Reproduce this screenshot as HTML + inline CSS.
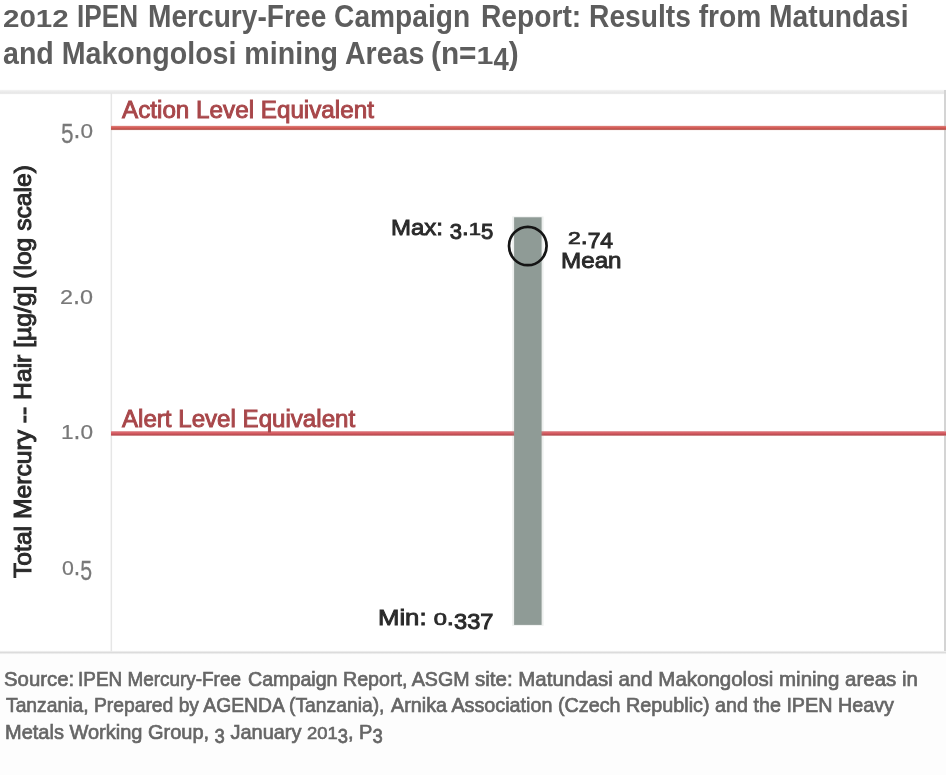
<!DOCTYPE html>
<html lang="en">
<head>
<meta charset="utf-8">
<title>2012 IPEN Mercury-Free Campaign Report</title>
<style>
html,body{margin:0;padding:0;background:#ffffff}
body{width:946px;height:775px;position:relative;overflow:hidden;font-family:"Liberation Sans",sans-serif}
h1,p{margin:0;padding:0;font-size:0;line-height:0;font-weight:400}
#g{position:absolute;left:0;top:0;width:946px;height:775px}
.t{position:absolute;white-space:pre;line-height:1;transform-origin:0 0;letter-spacing:0;filter:blur(0.55px)}
.h{font-size:32px;font-weight:700;color:#5d5d5d}
.rl{font-size:23px;font-weight:400;color:#a8474a;-webkit-text-stroke:0.9px currentColor}
.tk{font-size:27px;font-weight:400;color:#787878;-webkit-text-stroke:0.25px currentColor}
.lb{font-size:22.5px;font-weight:400;color:#2a2a2a;-webkit-text-stroke:0.9px currentColor}
.src{font-size:21px;font-weight:400;color:#666666;-webkit-text-stroke:0.7px currentColor}
.yl{font-size:24px;font-weight:400;color:#2a2a2a;-webkit-text-stroke:1px currentColor}
.d,.q{display:inline-block;line-height:1;font-size:.92em;transform-origin:0 84.65%}
.d{transform:scaleY(0.82)}
.q{transform:translateY(0.2em) scaleY(1.08)}
.h .d{font-size:1.02em;transform:scaleY(.76)}
#h1a{left:2.89px;top:-0.09px;transform:scaleX(0.9057)}
#h1b{left:77.27px;top:-0.09px;transform:scaleX(0.8169)}
#h1c{left:148.24px;top:-0.09px;transform:scaleX(0.8793)}
#h1d{left:481.24px;top:-0.09px;transform:scaleX(0.8807)}
#h2a{left:2.91px;top:36.61px;transform:scaleX(0.8932)}
#h2b{left:430.94px;top:36.61px;transform:scaleX(0.9308)}
#act{left:121.60px;top:99.33px;transform:scaleX(1.0536)}
#alr{left:121.60px;top:408.23px;transform:scaleX(1.0480)}
#y50{left:60.69px;top:116.04px;transform:scaleX(0.9091)}
#y20{left:59.56px;top:281.94px;transform:scaleX(0.9424)}
#y10{left:60.57px;top:416.74px;transform:scaleX(0.9125)}
#y05{left:61.54px;top:553.44px;transform:scaleX(0.8576)}
#max{left:390.93px;top:216.55px;transform:scaleX(1.0670)}
#mv{left:568.19px;top:225.95px;transform:scaleX(1.1050)}
#mean{left:561.02px;top:250.15px;transform:scaleX(1.0759)}
#min{left:378.36px;top:607.45px;transform:scaleX(1.1424)}
#s1a{left:4.03px;top:667.72px;transform:scaleX(0.9686)}
#s1b{left:77.60px;top:667.72px;transform:scaleX(0.9011)}
#s1c{left:247.96px;top:667.72px;transform:scaleX(0.9353)}
#s1d{left:475.40px;top:667.72px;transform:scaleX(0.9755)}
#s2a{left:6.00px;top:694.32px;transform:scaleX(0.9185)}
#s2b{left:390.90px;top:694.32px;transform:scaleX(0.9409)}
#s3{left:4.55px;top:721.12px;transform:scaleX(0.9519)}
#yl{left:10.88px;top:578.30px;transform:rotate(-90deg) scaleX(1.0274)}
</style>
</head>
<body>
<h1><span class="t h" id="h1a"><span class="d">2012</span></span> <span class="t h" id="h1b">IPEN</span> <span class="t h" id="h1c">Mercury-Free Campaign</span> <span class="t h" id="h1d">Report: Results from Matundasi</span>
<span class="t h" id="h2a">and Makongolosi mining Areas</span> <span class="t h" id="h2b">(n=<span class="d">1</span><span class="q">4</span>)</span></h1>
<svg id="g" width="946" height="775" viewBox="0 0 946 775">
<defs>
<linearGradient id="gt" x1="0" y1="0" x2="0" y2="1"><stop offset="0" stop-color="#f6f6f6"/><stop offset="0.25" stop-color="#eeeeee"/><stop offset="0.78" stop-color="#e6e6e6"/><stop offset="1" stop-color="#f4f4f4"/></linearGradient>
<linearGradient id="gb" x1="0" y1="0" x2="0" y2="1"><stop offset="0" stop-color="#fbfbfb"/><stop offset="0.5" stop-color="#dcdcdc"/><stop offset="1" stop-color="#fbfbfb"/></linearGradient>
<linearGradient id="gr1" x1="0" y1="0" x2="0" y2="1"><stop offset="0" stop-color="#e09a96"/><stop offset="0.2" stop-color="#d86d68"/><stop offset="0.5" stop-color="#d65a55"/><stop offset="0.8" stop-color="#b44f49"/><stop offset="1" stop-color="#d49a90"/></linearGradient>
<linearGradient id="gr2" x1="0" y1="0" x2="0" y2="1"><stop offset="0" stop-color="#e8b0b2"/><stop offset="0.25" stop-color="#da6a70"/><stop offset="0.55" stop-color="#d2565c"/><stop offset="0.8" stop-color="#b44a50"/><stop offset="1" stop-color="#d8a09c"/></linearGradient>
</defs>
<rect x="0" y="652" width="946" height="123" fill="#fdfdfd"/>
<rect x="0" y="89.8" width="946" height="4.4" fill="url(#gt)"/>
<rect x="0" y="650.6" width="946" height="3.8" fill="url(#gb)"/>
<rect x="110.6" y="93" width="1.5" height="558.5" fill="#e6e6e6"/>
<rect x="944" y="90" width="2" height="561" fill="#d4d4d4"/>
<rect x="111" y="125.8" width="835" height="4.3" fill="url(#gr1)"/>
<rect x="111" y="431" width="835" height="4.9" fill="url(#gr2)"/>
<rect x="512.2" y="216.4" width="31.4" height="409.4" fill="#8f9b96" fill-opacity="0.16"/>
<rect x="514.1" y="217.3" width="27.5" height="407.6" fill="#8f9b96"/>
<ellipse cx="527.8" cy="246" rx="18.8" ry="19.2" fill="none" stroke="#151515" stroke-width="2.7"/>
</svg>
<div id="labels">
<span class="t rl" id="act">Action Level Equivalent</span>
<span class="t rl" id="alr">Alert Level Equivalent</span>
<span class="t tk" id="y50"><span class="q">5</span>.<span class="d">0</span></span>
<span class="t tk" id="y20"><span class="d">2</span>.<span class="d">0</span></span>
<span class="t tk" id="y10"><span class="d">1</span>.<span class="d">0</span></span>
<span class="t tk" id="y05"><span class="d">0</span>.<span class="q">5</span></span>
<span class="t lb" id="max">Max: <span class="q">3</span>.<span class="d">1</span><span class="q">5</span></span>
<span class="t lb" id="mv"><span class="d">2</span>.<span class="q">74</span></span>
<span class="t lb" id="mean">Mean</span>
<span class="t lb" id="min">Min: <span class="d">0</span>.<span class="q">337</span></span>
<span class="t yl" id="yl">Total Mercury -- Hair [µg/g] (log scale)</span>
</div>
<p><span class="t src" id="s1a">Source:</span> <span class="t src" id="s1b">IPEN Mercury-Free</span> <span class="t src" id="s1c">Campaign Report, ASGM</span> <span class="t src" id="s1d">site: Matundasi and Makongolosi mining areas in</span>
<span class="t src" id="s2a">Tanzania, Prepared by AGENDA (Tanzania),</span> <span class="t src" id="s2b">Arnika Association (Czech Republic) and the IPEN Heavy</span>
<span class="t src" id="s3">Metals Working Group, <span class="q">3</span> January <span class="d">201</span><span class="q">3</span>, P<span class="q">3</span></span></p>
</body>
</html>
